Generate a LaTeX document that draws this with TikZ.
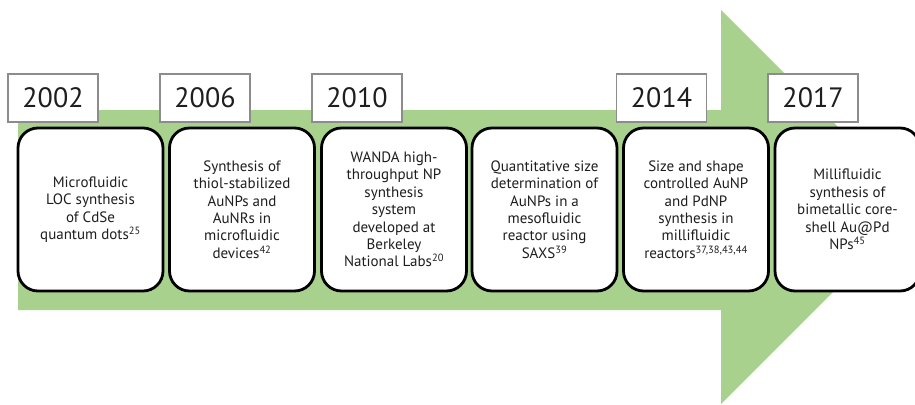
\documentclass[tikz,border=0pt]{standalone}
\usepackage{fontspec}
\setmainfont{PT Sans}
\definecolor{arrowgreen}{HTML}{A9D18E}
\definecolor{yearframe}{HTML}{8C8C8C}
\definecolor{inkdark}{HTML}{1E1E1E}
\begin{document}
\begin{tikzpicture}[x=1pt,y=-1pt,
  yearbox/.style={draw=yearframe,line width=1.6pt,fill=white,minimum width=90pt,minimum height=48pt,
    inner sep=0pt,font=\fontsize{28}{30}\selectfont,text=inkdark},
  eventbox/.style={draw=black,line width=2.8pt,fill=white,rounded corners=20pt,
    minimum width=145pt,minimum height=163pt,inner sep=0pt},
  eventtext/.style={align=center,font=\fontsize{15}{17.4}\selectfont,text=inkdark}]
\useasboundingbox (0,0) rectangle (915,404);
\clip (0,0) rectangle (915,404);
% timeline arrow
\fill[arrowgreen] (18,110) -- (721,110) -- (721,10) -- (918,207) -- (721,404) -- (721,310) -- (18,310) -- cycle;
% event cards
\node[eventbox] (c1) at (90.5,209.5) {};
\node[eventbox] (c2) at (242,209.5) {};
\node[eventbox] (c3) at (394,209.5) {};
\node[eventbox] (c4) at (544.5,209.5) {};
\node[eventbox] (c5) at (696,209.5) {};
\node[eventbox] (c6) at (847.5,209.5) {};
\node[eventtext] (t1) at (c1) {Microfluidic\\LOC synthesis\\of CdSe\\quantum dots\textsuperscript{25}};
\node[eventtext] (t2) at (c2) {Synthesis of\\thiol-stabilized\\AuNPs and\\AuNRs in\\microfluidic\\devices\textsuperscript{42}};
\node[eventtext] (t3) at (c3) {WANDA high-\\throughput NP\\synthesis\\system\\developed at\\Berkeley\\National Labs\textsuperscript{20}};
\node[eventtext] (t4) at (c4) {Quantitative size\\determination of\\AuNPs in a\\mesofluidic\\reactor using\\SAXS\textsuperscript{39}};
\node[eventtext] (t5) at (c5) {Size and shape\\controlled AuNP\\and PdNP\\synthesis in\\millifluidic\\reactors\textsuperscript{37,38,43,44}};
\node[eventtext] (t6) at (c6) {Millifluidic\\synthesis of\\bimetallic core-\\shell Au@Pd\\NPs\textsuperscript{45}};
% year labels
\node[yearbox] (y1) at (53,98) {2002};
\node[yearbox] (y2) at (205,98) {2006};
\node[yearbox] (y3) at (357,98) {2010};
\node[yearbox] (y4) at (661.5,98) {2014};
\node[yearbox] (y5) at (813,98) {2017};
\end{tikzpicture}
\end{document}
